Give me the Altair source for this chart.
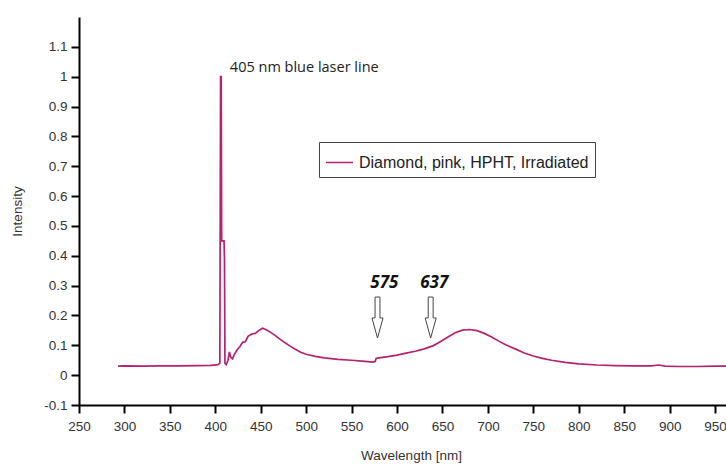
import altair as alt
import pandas as pd

# ---- data ----
wavelength = [293, 300, 320, 340, 360, 380, 395, 403, 405.0, 405.8, 406.5, 407.0, 409.6, 410.1, 410.6,
              412, 414, 415.5, 417, 419, 421, 424, 427, 430, 433, 436, 440, 444, 448, 452, 456,
              460, 465, 470, 476, 482, 488, 494, 500, 510, 520, 535, 550, 565, 573, 576, 577,
              580, 590, 600, 610, 620, 630, 640, 648, 656, 664, 672, 680, 688, 696, 704, 712,
              720, 730, 740, 750, 760, 770, 785, 800, 820, 840, 860, 880, 888, 895, 910, 930,
              950, 962]
intensity = [0.030, 0.031, 0.030, 0.031, 0.031, 0.032, 0.033, 0.035, 0.040, 1.0, 1.0, 0.45, 0.45, 0.39, 0.04,
             0.035, 0.050, 0.078, 0.060, 0.055, 0.070, 0.085, 0.095, 0.110, 0.112, 0.130, 0.138, 0.140, 0.150, 0.157, 0.152,
             0.145, 0.135, 0.123, 0.110, 0.098, 0.087, 0.077, 0.070, 0.063, 0.058, 0.053, 0.050, 0.046, 0.044, 0.046, 0.056,
             0.058, 0.062, 0.067, 0.074, 0.080, 0.088, 0.099, 0.113, 0.128, 0.142, 0.151, 0.153, 0.149, 0.140, 0.128, 0.114,
             0.101, 0.088, 0.074, 0.064, 0.056, 0.050, 0.043, 0.038, 0.034, 0.032, 0.031, 0.031, 0.034, 0.030, 0.029, 0.029,
             0.030, 0.030]
series_name = "Diamond, pink, HPHT, Irradiated"

x_ticks = [250, 300, 350, 400, 450, 500, 550, 600, 650, 700, 750, 800, 850, 900, 950]
y_ticks = [-0.1, 0.0, 0.1, 0.2, 0.3, 0.4, 0.5, 0.6, 0.7, 0.8, 0.9, 1.0, 1.1]

laser_text = ["405 nm blue laser line"]
laser_x = [416]
laser_y = [1.03]

peak_labels = ["575", "637"]
peak_label_x = [586, 641]
peak_label_y = [0.309, 0.309]

arrow_x = [578.5, 637]
arrow_y = [0.193, 0.193]

# ---- build tables ----
df = pd.DataFrame({"wl": wavelength, "int": intensity, "series": [series_name] * len(wavelength)})
df_laser = pd.DataFrame({"wl": laser_x, "int": laser_y, "label": laser_text})
df_peaks = pd.DataFrame({"wl": peak_label_x, "int": peak_label_y, "label": peak_labels})
df_arrows = pd.DataFrame({"wl": arrow_x, "int": arrow_y})

x_scale = alt.Scale(domain=[250, 962], nice=False, zero=False)
y_scale = alt.Scale(domain=[-0.1, 1.2], nice=False, zero=False)

axis_common = dict(
    grid=False, domainColor="black", domainWidth=2, tickColor="black", tickWidth=2, tickSize=8,
    labelFont="Arial", labelFontSize=13.5, labelColor="#333333", labelOverlap=False,
    titleFont="Arial", titleFontSize=13.5, titleFontWeight="normal", titleColor="#333333",
)

line = alt.Chart(df).mark_line(strokeWidth=1.7, clip=True).encode(
    x=alt.X("wl:Q", scale=x_scale,
            axis=alt.Axis(values=x_ticks, tickCount=30, title="Wavelength [nm]", labelPadding=6,
                          titlePadding=16, titleX=332, labelFlush=False, **axis_common)),
    y=alt.Y("int:Q", scale=y_scale,
            axis=alt.Axis(values=y_ticks, tickCount=30, title="Intensity", labelPadding=4, titlePadding=19,
                          labelExpr="replace(format(datum.value, '.1~f'), '\u2212', '-')",
                          **axis_common)),
    color=alt.Color("series:N",
                    scale=alt.Scale(domain=[series_name], range=["#b4236e"]),
                    legend=alt.Legend(title=None, orient="none", legendX=240, legendY=125,
                                      symbolType="stroke", symbolSize=729, symbolStrokeWidth=1.5,
                                      labelFont="Arial", labelFontSize=16, labelColor="#222222",
                                      labelLimit=400, padding=6, strokeColor="#444444", fillColor="white",
                                      labelOffset=5, cornerRadius=0)),
)

laser = alt.Chart(df_laser).mark_text(
    align="left", baseline="middle", font="Open Sans", fontSize=14.5, color="#222222"
).encode(x="wl:Q", y="int:Q", text="label:N")

peaks = alt.Chart(df_peaks).mark_text(
    align="center", baseline="middle", font="Open Sans", fontSize=17, fontWeight="bold",
    fontStyle="italic", color="#111111"
).encode(x="wl:Q", y="int:Q", text="label:N")

arrow_path = "M-0.12,-1 L0.12,-1 L0.12,0.02 L0.27,0.02 L0,1 L-0.27,0.02 L-0.12,0.02 Z"
arrows = alt.Chart(df_arrows).mark_point(
    shape=arrow_path, size=1681, filled=True, fill="white", stroke="#444444", strokeWidth=1, opacity=1
).encode(x="wl:Q", y="int:Q")

chart = alt.layer(line, laser, peaks, arrows).properties(
    width=647, height=388,
    padding={"left": 79, "top": 17, "right": 0, "bottom": 65},
    autosize=alt.AutoSizeParams(type="none"),
    background="white",
).configure_view(stroke=None)

chart.save("out.html", embed_options={"renderer": "svg", "actions": False})
